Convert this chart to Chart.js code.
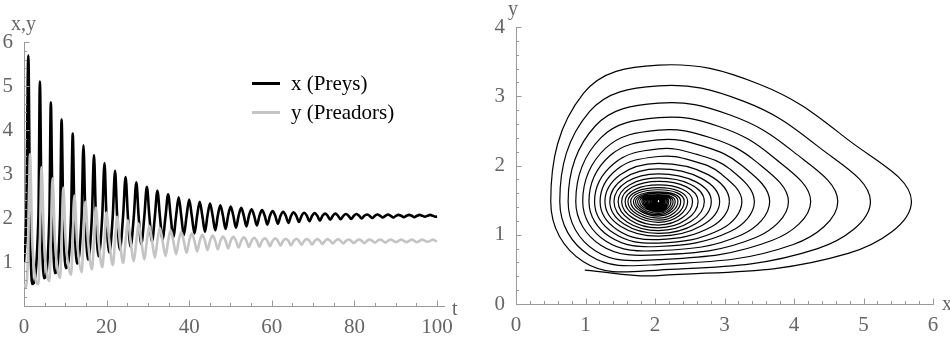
<!DOCTYPE html>
<html>
<head>
<meta charset="utf-8">
<script src="https://cdn.jsdelivr.net/npm/chart.js@4.4.1/dist/chart.umd.min.js"></script>
<style>
  html, body { margin: 0; padding: 0; background: #fff; }
  #wrap { position: relative; width: 950px; height: 343px; overflow: hidden; font-family: "Liberation Serif", serif; }
  canvas { position: absolute; top: 0; }
  #left { left: 0; }
  #right { left: 475px; }
  .lbl { position: absolute; color: #666; font-size: 20px; line-height: 1; white-space: nowrap; }
  .legLine { position: absolute; left: 252px; width: 28px; height: 3px; }
  .legText { position: absolute; left: 291px; font-size: 21px; line-height: 1; color: #000; white-space: nowrap; }
</style>
</head>
<body>
<div id="wrap">
  <canvas id="left" width="475" height="343"></canvas>
  <canvas id="right" width="475" height="343"></canvas>
  <div class="lbl" style="left:11px; top:13px;">x,y</div>
  <div class="lbl" style="left:452px; top:298px;">t</div>
  <div class="lbl" style="left:508px; top:-2px;">y</div>
  <div class="lbl" style="left:942px; top:293px;">x</div>
  <div class="legLine" style="top:82px; background:#000;"></div>
  <div class="legText" style="top:73px;">x (Preys)</div>
  <div class="legLine" style="top:111px; background:#c4c4c4;"></div>
  <div class="legText" style="top:102px;">y (Preadors)</div>
</div>
<script>
// values, one entry per oscillation cycle

// start and end of the run
const t0 = 0, x0 = 1.0, y0 = 0.5;
const tEnd = 100, xEnd = 2.04, yEnd = 1.47;

// x passes this level when y is at an extreme, y passes yMid when x is at an extreme
const xMid = 2.05;
const yMid = 1.48;

// prey maxima
const tPeakX = [1.05, 3.85, 6.5, 9.1, 11.8, 14.4, 16.95, 19.5, 22.05, 24.6, 27.2, 29.75, 32.3, 34.9, 37.45, 40.0, 42.55, 45.05, 47.55, 50.05, 52.6, 55.1, 57.65, 60.2, 62.75, 65.3, 67.85, 70.4, 72.9, 75.4, 77.95, 80.5, 83.05, 85.6, 88.15, 90.7, 93.25, 95.8, 98.35];
const peakX = [5.69, 5.10, 4.63, 4.24, 3.92, 3.65, 3.43, 3.25, 3.07, 2.93, 2.81, 2.71, 2.62, 2.54, 2.47, 2.42, 2.37, 2.33, 2.29, 2.26, 2.23, 2.20, 2.18, 2.16, 2.14, 2.13, 2.12, 2.11, 2.10, 2.10, 2.09, 2.09, 2.08, 2.08, 2.08, 2.07, 2.07, 2.07, 2.07];

// predator maxima
const tPeakY = [1.45, 4.25, 6.9, 9.5, 12.2, 14.85, 17.4, 19.95, 22.55, 25.15, 27.75, 30.35, 32.9, 35.5, 38.07, 40.63, 43.18, 45.68, 48.18, 50.69, 53.23, 55.74, 58.29, 60.84, 63.39, 65.94, 68.49, 71.03, 73.53, 76.04, 78.59, 81.14, 83.69, 86.24, 88.79, 91.34, 93.89, 96.44, 98.99];
const peakY = [3.45, 3.15, 2.90, 2.69, 2.51, 2.37, 2.24, 2.13, 2.03, 1.95, 1.88, 1.82, 1.77, 1.72, 1.68, 1.65, 1.62, 1.60, 1.58, 1.57, 1.56, 1.55, 1.54, 1.54, 1.53, 1.53, 1.52, 1.52, 1.52, 1.52, 1.51, 1.51, 1.51, 1.51, 1.51, 1.51, 1.51, 1.51, 1.51];

// prey minima
const tTroughX = [2.0, 4.85, 7.5, 10.1, 12.85, 15.5, 18.05, 20.65, 23.2, 25.8, 28.4, 31.0, 33.55, 36.15, 38.7, 41.28, 43.82, 46.32, 48.82, 51.33, 53.86, 56.38, 58.93, 61.48, 64.03, 66.58, 69.13, 71.66, 74.16, 76.68, 79.23, 81.78, 84.33, 86.88, 89.43, 91.98, 94.53, 97.08, 99.63];
const troughX = [0.50, 0.63, 0.75, 0.86, 0.96, 1.05, 1.13, 1.21, 1.28, 1.35, 1.41, 1.47, 1.52, 1.57, 1.61, 1.65, 1.69, 1.72, 1.75, 1.78, 1.81, 1.83, 1.85, 1.87, 1.89, 1.91, 1.93, 1.94, 1.96, 1.97, 1.98, 1.99, 2.00, 2.01, 2.01, 2.02, 2.02, 2.03, 2.03];

// predator minima
const tTroughY = [0.55, 3.5, 6.15, 8.75, 11.4, 13.95, 16.45, 18.95, 21.5, 24.0, 26.6, 29.15, 31.7, 34.28, 36.83, 39.37, 41.92, 44.42, 46.92, 49.42, 51.96, 54.46, 57.01, 59.56, 62.11, 64.66, 67.21, 69.76, 72.27, 74.77, 77.31, 79.86, 82.41, 84.96, 87.51, 90.06, 92.61, 95.16, 97.71];
const troughY = [0.42, 0.49, 0.57, 0.64, 0.71, 0.77, 0.83, 0.88, 0.93, 0.98, 1.02, 1.06, 1.10, 1.14, 1.18, 1.21, 1.24, 1.27, 1.29, 1.31, 1.33, 1.34, 1.35, 1.36, 1.37, 1.38, 1.39, 1.40, 1.41, 1.42, 1.42, 1.43, 1.43, 1.44, 1.44, 1.45, 1.45, 1.45, 1.46];

// outer part of the phase orbit (start + first 8 turns);
// the last point only steers the curve into the 9th turn and is not drawn to
const phaseX = [0.99, 2.05, 4.78,
  5.69, 4.78, 3.51, 2.05, 0.97, 0.50, 0.97, 2.05, 4.34,
  5.10, 4.34, 3.27, 2.05, 1.06, 0.63, 1.06, 2.05, 3.99,
  4.63, 3.99, 3.08, 2.05, 1.14, 0.75, 1.14, 2.05, 3.69,
  4.24, 3.69, 2.93, 2.05, 1.22, 0.86, 1.22, 2.05, 3.45,
  3.92, 3.45, 2.80, 2.05, 1.29, 0.96, 1.29, 2.05, 3.25,
  3.65, 3.25, 2.69, 2.05, 1.35, 1.05, 1.35, 2.05, 3.09,
  3.43, 3.09, 2.60, 2.05, 1.41, 1.13, 1.41, 2.05, 2.95,
  3.25, 2.95, 2.53, 2.05, 1.46, 1.21, 1.46, 2.05, 2.82,
  3.07, 2.82];
const phaseY = [0.49, 0.41, 0.73,
  1.48, 2.37, 3.17, 3.45, 3.04, 1.48, 0.61, 0.49, 0.80,
  1.48, 2.28, 2.93, 3.15, 2.78, 1.48, 0.70, 0.57, 0.86,
  1.48, 2.20, 2.73, 2.90, 2.57, 1.48, 0.77, 0.64, 0.92,
  1.48, 2.13, 2.56, 2.69, 2.40, 1.48, 0.85, 0.71, 0.96,
  1.48, 2.06, 2.40, 2.51, 2.25, 1.48, 0.91, 0.77, 1.00,
  1.48, 2.00, 2.28, 2.37, 2.14, 1.48, 0.97, 0.83, 1.05,
  1.48, 1.94, 2.16, 2.24, 2.03, 1.48, 1.02, 0.88, 1.08,
  1.48, 1.88, 2.07, 2.13, 1.95, 1.48, 1.07, 0.93, 1.12,
  1.48, 1.84];

// axis ticks
const tTicks = [0, 20, 40, 60, 80, 100];
const xyTicks = [1, 2, 3, 4, 5, 6];
const phaseXTicks = [0, 1, 2, 3, 4, 5, 6];
const phaseYTicks = [0, 1, 2, 3, 4];

const AXIS = '#999';
const LABEL = '#666';
const HIDDEN = 'rgba(0,0,0,0)';

// merge every extreme into one time ordered list
const events = [{ t: t0, x: x0, y: y0 }];
tPeakX.forEach((t, i) => events.push({ t: t, x: peakX[i], y: yMid }));
tTroughX.forEach((t, i) => events.push({ t: t, x: troughX[i], y: yMid }));
tPeakY.forEach((t, i) => events.push({ t: t, x: xMid, y: peakY[i] }));
tTroughY.forEach((t, i) => events.push({ t: t, x: xMid, y: troughY[i] }));
events.push({ t: tEnd, x: xEnd, y: yEnd });
events.sort((a, b) => a.t - b.t);

const preySeries = events.map(e => ({ x: e.t, y: e.x }));
const predSeries = events.map(e => ({ x: e.t, y: e.y }));

// phase orbit: detailed outer turns, then the inner turns from the extremes.
// inner list starts one point early (8th predator minimum) so the join is smooth; that segment is hidden
const phaseOuter = phaseX.map((x, i) => ({ x: x, y: phaseY[i] }));
const phaseInner = events.filter(e => e.t >= tTroughY[8]).map(e => ({ x: e.x, y: e.y }));
const lastOuter = phaseOuter.length - 1;

// inward pointing major / minor ticks like the original axes
function minorList(max, step, majors) {
  const out = [];
  for (let v = step; v < max - 1e-6; v += step) {
    const r = Math.round(v * 100) / 100;
    if (!majors.includes(r)) out.push(r);
  }
  return out;
}

const innerTicks = {
  id: 'innerTicks',
  afterDraw(chart, args, opts) {
    const ctx = chart.ctx;
    const area = chart.chartArea;
    ctx.save();
    ctx.strokeStyle = AXIS;
    ctx.lineWidth = 1;
    opts.axes.forEach(a => {
      const s = chart.scales[a.id];
      const draw = (v, len) => {
        const p = Math.round(s.getPixelForValue(v)) + 0.5;
        ctx.beginPath();
        if (a.id === 'x') {
          ctx.moveTo(p, area.bottom);
          ctx.lineTo(p, area.bottom - len);
        } else {
          ctx.moveTo(area.left, p);
          ctx.lineTo(area.left + len, p);
        }
        ctx.stroke();
      };
      a.minor.forEach(v => draw(v, 3));
      a.major.forEach(v => draw(v, 5.5));
    });
    ctx.restore();
  }
};

function axis(min, max, ticks, size, isX) {
  const o = {
    type: 'linear',
    min: min,
    max: max,
    grid: { display: false },
    border: { display: true, color: AXIS, width: 1 },
    ticks: {
      color: LABEL,
      font: { family: 'Liberation Serif', size: 21 },
      padding: isX ? 1 : 3,
      autoSkip: false,
      maxRotation: 0
    },
    afterBuildTicks: s => { s.ticks = ticks.map(v => ({ value: v })); }
  };
  if (isX) o.afterFit = s => { s.height = size; };
  else o.afterFit = s => { s.width = size; };
  return o;
}

new Chart(document.getElementById('left'), {
  type: 'line',
  data: {
    datasets: [
      { label: 'x (Preys)', data: preySeries, borderColor: '#000', borderWidth: 2.6,
        pointRadius: 0, cubicInterpolationMode: 'monotone', order: 1 },
      { label: 'y (Preadors)', data: predSeries, borderColor: '#c4c4c4', borderWidth: 2.6,
        pointRadius: 0, cubicInterpolationMode: 'monotone', order: 0 }
    ]
  },
  options: {
    responsive: false,
    animation: false,
    events: [],
    layout: { padding: { top: 42, right: 31, left: 0, bottom: 0 } },
    plugins: {
      legend: { display: false },
      tooltip: { enabled: false },
      innerTicks: { axes: [
        { id: 'x', major: tTicks, minor: minorList(101.7, 5, tTicks) },
        { id: 'y', major: xyTicks, minor: minorList(6, 0.2, xyTicks) }
      ] }
    },
    scales: {
      x: axis(0, 101.7, tTicks, 37, true),
      y: axis(0, 6, xyTicks, 24, false)
    }
  },
  plugins: [innerTicks]
});

new Chart(document.getElementById('right'), {
  type: 'scatter',
  data: {
    datasets: [
      { label: 'orbit (outer turns)', data: phaseOuter, showLine: true, borderColor: '#000',
        borderWidth: 1.2, pointRadius: 0, tension: 0.4, fill: false,
        segment: { borderColor: c => c.p1DataIndex === lastOuter ? HIDDEN : undefined } },
      { label: 'orbit (inner turns)', data: phaseInner, showLine: true, borderColor: '#000',
        borderWidth: 1.2, pointRadius: 0, tension: 0.55, fill: false,
        segment: { borderColor: c => c.p0DataIndex === 0 ? HIDDEN : undefined } }
    ]
  },
  options: {
    responsive: false,
    animation: false,
    events: [],
    layout: { padding: { top: 27, right: 17, left: 0, bottom: 0 } },
    plugins: {
      legend: { display: false },
      tooltip: { enabled: false },
      innerTicks: { axes: [
        { id: 'x', major: phaseXTicks, minor: minorList(6, 0.2, phaseXTicks) },
        { id: 'y', major: phaseYTicks, minor: minorList(4, 0.2, phaseYTicks) }
      ] }
    },
    scales: {
      x: axis(0, 6, phaseXTicks, 39, true),
      y: axis(0, 4, phaseYTicks, 41, false)
    }
  },
  plugins: [innerTicks]
});
</script>
</body>
</html>
